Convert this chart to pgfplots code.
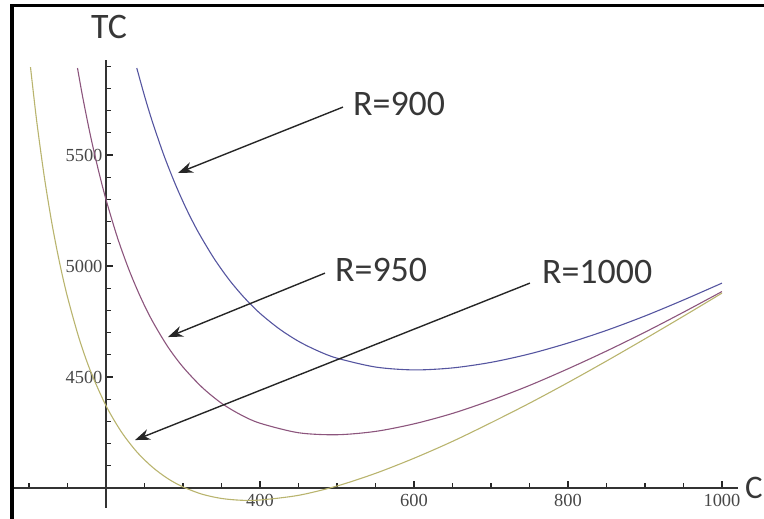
\documentclass[border=0pt]{standalone}
\usepackage{pgfplots}
\pgfplotsset{compat=1.18}
\usepackage{fontspec}
\setmainfont{Liberation Serif}
\newfontfamily\lblfont{Carlito}
\usetikzlibrary{arrows.meta}
\definecolor{cblue}{RGB}{85,85,160}
\definecolor{cpurp}{RGB}{140,85,125}
\definecolor{cyell}{RGB}{185,180,110}
\definecolor{txtgray}{RGB}{55,55,55}

\begin{document}
\begin{tikzpicture}[x=1bp,y=1bp]
\path[use as bounding box] (0,0) rectangle (764,519);
\begin{axis}[
  at={(12.8bp,11bp)}, anchor=south west,
  x=0.77bp, y=0.222bp,
  xmin=79, xmax=1021, ymin=3910, ymax=5928,
  axis x line=bottom, axis y line=left,
  axis x line shift=-19.98bp, axis y line shift=-93.17bp,
  axis line style={-, black!80, line width=1.2bp},
  xtick={400,600,800,1000},
  minor xtick={100,150,200,250,300,350,450,500,550,650,700,750,850,900,950},
  ytick={4500,5000,5500},
  minor ytick={4000,4100,4200,4300,4400,4600,4700,4800,4900,5100,5200,5300,5400,5600,5700,5800,5900},
  tick align=inside,
  major tick length=7bp, minor tick length=5bp,
  every tick/.style={black!85, line width=1.3bp},
  minor tick style={black!85, line width=1.3bp},
  /pgf/number format/assume math mode=true,
  /pgf/number format/1000 sep={},
  ticklabel style={font=\fontsize{18.5}{18.5}\selectfont, text=black!72},
  xticklabel style={yshift=-3bp},
  clip=false,
]
% R = 900
\addplot[cblue, line width=1.1bp, smooth] coordinates {
(240,5892) (250,5767) (260,5653) (275,5501) (290,5369) (305,5253) (320,5152)
(340,5036) (360,4938) (380,4856) (400,4787) (425,4717) (450,4661) (475,4618)
(500,4585) (550,4545) (600,4532) (650,4541) (700,4566) (750,4604) (800,4653)
(850,4710) (900,4775) (950,4847) (1000,4923)
};
% R = 950
\addplot[cpurp, line width=1.1bp, smooth] coordinates {
(163,5892) (170,5757) (180,5585) (190,5434) (200,5300) (215,5127) (230,4982)
(245,4859) (260,4754) (280,4638) (300,4545) (325,4453) (350,4382) (375,4330)
(400,4292) (450,4249) (500,4240) (550,4255) (600,4289) (650,4336) (700,4395)
(750,4462) (800,4537) (850,4617) (900,4702) (950,4792) (1000,4885)
};
% R = 1000
\addplot[cyell, line width=1.1bp, smooth] coordinates {
(102,5896) (110,5654) (120,5400) (130,5188) (140,5011) (150,4861) (165,4675)
(180,4526) (200,4371) (220,4253) (240,4163) (260,4095) (280,4043) (300,4005)
(325,3972) (350,3953) (375,3945) (400,3946) (450,3967) (500,4009) (550,4066)
(600,4134) (650,4210) (700,4294) (750,4382) (800,4475) (850,4572) (900,4672)
(950,4774) (1000,4878)
};
\draw[-{Stealth[length=15bp,width=11bp]}, line width=1.4bp, black!85]
  (axis cs:507.8,5716) -- (axis cs:293.5,5419);
\draw[-{Stealth[length=15bp,width=11bp]}, line width=1.4bp, black!85]
  (axis cs:484.4,4968) -- (axis cs:280.5,4680);
\draw[-{Stealth[length=15bp,width=11bp]}, line width=1.4bp, black!85]
  (axis cs:750.6,4923) -- (axis cs:237.7,4216);
\node[anchor=base west, inner sep=0pt, font=\lblfont\fontsize{36}{36}\selectfont, text=txtgray]
  at (axis cs:520.8,5680) {R=900};
\node[anchor=base west, inner sep=0pt, font=\lblfont\fontsize{36}{36}\selectfont, text=txtgray]
  at (axis cs:497.4,4932) {R=950};
\node[anchor=base west, inner sep=0pt, font=\lblfont\fontsize{36}{36}\selectfont, text=txtgray]
  at (axis cs:766.2,4923) {R=1000};
\end{axis}
\node[anchor=base, inner sep=0pt, font=\lblfont\fontsize{36}{36}\selectfont, text=txtgray] at (109,480) {TC};
\node[anchor=base west, inner sep=0pt, font=\lblfont\fontsize{33}{33}\selectfont, text=txtgray] at (745,20) {C};
\draw[line width=3.5bp, black] (12,-20) -- (12,513.5) -- (800,513.5);
\end{tikzpicture}
\end{document}
